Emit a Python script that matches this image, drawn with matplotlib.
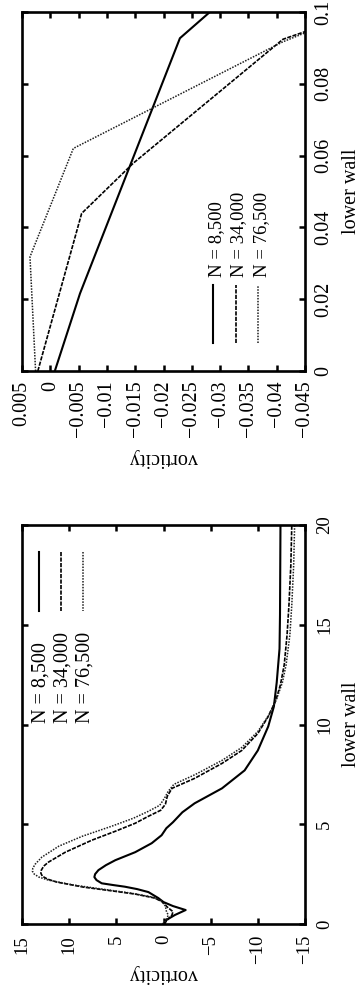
"""
Vorticity along the lower wall for three grid sizes, drawn turned on its side
(the page is rotated 90 degrees, as in the printed figure).
"""

import matplotlib.pyplot as plt

plt.rcParams['font.family'] = ['Liberation Serif', 'DejaVu Serif']
plt.rcParams['axes.unicode_minus'] = True

# Data
# ----------------------------------------------------------------------------

labels = ['N = 8,500', 'N = 34,000', 'N = 76,500']

# whole lower wall
wall_8500 = [0.0, 0.2, 0.45, 0.7, 0.9, 1.1, 1.3, 1.6, 1.75, 1.87, 1.95, 2.04,
             2.2, 2.35, 2.5, 2.7, 2.95, 3.2, 3.6, 4.05, 4.45, 4.8, 5.1, 5.6,
             6.05, 6.8, 7.7, 8.7, 9.9, 10.9, 12.1, 13.8, 15.5, 20.0]
vort_8500 = [-0.1, -0.3, -1.2, -2.35, -1.0, 0.0, 0.55, 1.6, 2.8, 4.1, 5.3,
             6.55, 7.1, 7.33, 7.25, 6.9, 6.1, 5.1, 3.0, 1.25, 0.2, -0.3, -1.0,
             -2.0, -3.3, -6.2, -8.6, -10.0, -11.1, -11.7, -12.0, -12.3,
             -12.35, -12.4]

wall_34000 = [0.0, 0.2, 0.45, 0.62, 0.85, 1.1, 1.3, 1.5, 1.65, 1.85, 2.1,
              2.25, 2.4, 2.55, 2.7, 2.9, 3.1, 3.6, 4.2, 4.65, 5.05, 5.4, 5.7,
              6.0, 6.4, 6.8, 7.3, 8.05, 8.7, 9.55, 10.4, 11.2, 12.0, 13.0,
              14.5, 16.0, 18.0, 20.0]
vort_34000 = [0.0, -0.4, -0.9, -1.0, -0.4, 0.1, 0.9, 3.0, 5.3, 8.5, 11.3,
              12.3, 12.85, 13.0, 12.95, 12.7, 12.2, 10.4, 7.6, 5.1, 3.0, 1.6,
              0.3, -0.2, -0.4, -0.9, -3.3, -6.2, -8.3, -10.0, -11.1, -11.9,
              -12.4, -12.8, -13.1, -13.3, -13.5, -13.6]

wall_76500 = [0.0, 0.2, 0.45, 0.65, 0.9, 1.15, 1.35, 1.55, 1.75, 1.95, 2.2,
              2.35, 2.5, 2.65, 2.8, 3.0, 3.35, 3.9, 4.4, 4.9, 5.3, 5.65, 5.95,
              6.3, 6.65, 7.0, 7.5, 8.2, 8.85, 9.65, 10.5, 11.3, 12.1, 13.0,
              14.5, 16.0, 18.0, 20.0]
vort_76500 = [0.1, -0.3, -0.5, -0.3, -0.2, 0.2, 1.2, 3.5, 6.5, 9.5, 12.2,
              13.2, 13.7, 13.9, 13.85, 13.6, 12.9, 11.1, 8.6, 5.5, 3.2, 1.6,
              0.4, -0.1, -0.5, -1.1, -3.4, -6.2, -8.3, -10.0, -11.2, -12.0,
              -12.6, -13.0, -13.4, -13.6, -13.8, -13.9]

# close-up near the leading edge
zwall_8500 = [0.0, 0.0216, 0.0927, 0.1]
zvort_8500 = [-0.0008, -0.00525, -0.0229, -0.0282]
zwall_34000 = [0.0, 0.0439, 0.0579, 0.0924, 0.0948]
zvort_34000 = [0.0022, -0.00554, -0.01467, -0.0411, -0.0455]
zwall_76500 = [0.0, 0.0318, 0.062, 0.0917, 0.0945]
zvort_76500 = [0.0026, 0.00359, -0.00407, -0.0411, -0.0455]

vort_ticks = [15, 10, 5, 0, -5, -10, -15]
vort_labels = ['15', '10', '5', '0', '\u22125', '\u221210', '\u221215']
wall_ticks = [0, 5, 10, 15, 20]
wall_labels = ['0', '5', '10', '15', '20']

zvort_ticks = [0.005, 0, -0.005, -0.01, -0.015, -0.02, -0.025, -0.03, -0.035,
               -0.04, -0.045]
zvort_labels = ['0.005', '0', '\u22120.005', '\u22120.01', '\u22120.015',
                '\u22120.02', '\u22120.025', '\u22120.03', '\u22120.035',
                '\u22120.04', '\u22120.045']
zwall_ticks = [0, 0.02, 0.04, 0.06, 0.08, 0.1]
zwall_labels = ['0', '0.02', '0.04', '0.06', '0.08', '0.1']

styles = [dict(color='black', lw=1.5, ls='-'),
          dict(color='black', lw=1.2, ls=(0, (2.5, 0.8))),
          dict(color='#1e1e1e', lw=1.1, ls=(0, (1.0, 0.9)))]


def config_ax(ax, xticks, xlabels, yticks, ylabels, tick_fs, label_fs, pad):
    """Gnuplot-like frame, turned on its side: x is vorticity, y is wall."""
    for sp in ax.spines.values():
        sp.set_linewidth(1.9)
    ax.set_xticks(xticks)
    ax.set_xticklabels(xlabels, rotation=90, fontsize=tick_fs)
    ax.set_yticks(yticks)
    ax.set_yticklabels(ylabels, rotation=90, fontsize=tick_fs, va='center')
    ax.tick_params(which='both', direction='in', length=4, width=1.8,
                   top=True, bottom=True, left=True, right=True,
                   labelleft=False, labelright=True, pad=pad)
    ax.set_xlabel('vorticity', rotation=180, fontsize=label_fs)
    ax.yaxis.set_label_position('right')
    ax.set_ylabel('lower wall', rotation=90, fontsize=label_fs, va='center')


def draw_key(ax, x_line, x_text, dx, y0, y1, y_text, fs):
    for i, (lab, st) in enumerate(zip(labels, styles)):
        ax.plot([x_line + i * dx] * 2, [y0, y1], transform=ax.transAxes,
                clip_on=False, **st)
        ax.text(x_text + i * dx, y_text, lab, rotation=90, ha='center',
                va='bottom', fontsize=fs, transform=ax.transAxes)


fig = plt.figure(figsize=(3.6, 9.94), dpi=100)
W, H = 360.0, 994.0

# Close-up near the leading edge (top of the page)
# ----------------------------------------------------------------------------

ax = fig.add_axes([22 / W, 1 - 371 / H, 283 / W, 359 / H])
ax.plot(zvort_8500, zwall_8500, **styles[0])
ax.plot(zvort_34000, zwall_34000, **styles[1])
ax.plot(zvort_76500, zwall_76500, **styles[2])
ax.set_xlim(0.005, -0.045)
ax.set_ylim(0, 0.1)
config_ax(ax, zvort_ticks, zvort_labels, zwall_ticks, zwall_labels,
          tick_fs=14.5, label_fs=14.5, pad=7)
ax.xaxis.set_label_coords(0.5, -0.24)
ax.yaxis.set_label_coords(1.163, 0.5)
ax.xaxis.label.set_va('center')
draw_key(ax, 0.676, 0.686, 0.0795, 0.078, 0.240, 0.262, fs=13.5)

# Whole lower wall (bottom of the page)
# ----------------------------------------------------------------------------

ax = fig.add_axes([22 / W, 1 - 924 / H, 283 / W, 399 / H])
ax.plot(vort_8500, wall_8500, **styles[0])
ax.plot(vort_34000, wall_34000, **styles[1])
ax.plot(vort_76500, wall_76500, **styles[2])
ax.set_xlim(15, -15)
ax.set_ylim(0, 20)
config_ax(ax, vort_ticks, vort_labels, wall_ticks, wall_labels,
          tick_fs=13.5, label_fs=14.5, pad=8)
ax.xaxis.set_label_coords(0.5, -0.125)
ax.yaxis.set_label_coords(1.163, 0.5)
ax.xaxis.label.set_va('center')
draw_key(ax, 0.060, 0.068, 0.0775, 0.9323, 0.7845, 0.505, fs=14.5)

fig.savefig('out.png', dpi=100)
